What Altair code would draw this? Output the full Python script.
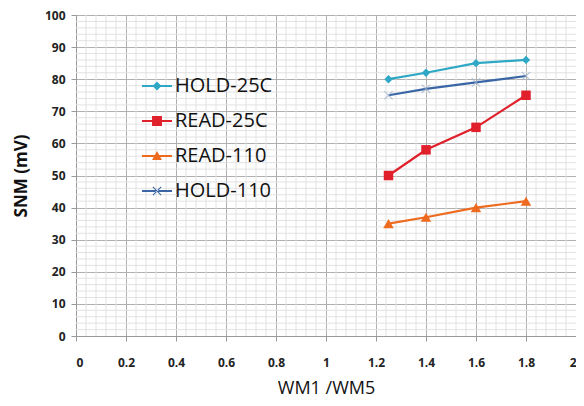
import altair as alt
import pandas as pd

x_vals = [1.25, 1.4, 1.6, 1.8]
series_names = ["HOLD-25C", "READ-25C", "READ-110", "HOLD-110"]
hold_25c = [80, 82, 85, 86]
read_25c = [50, 58, 65, 75]
read_110 = [35, 37, 40, 42]
hold_110 = [75, 77, 79, 81]
colors = ["#2EA8C5", "#E0202A", "#EE6A1E", "#3A66A6"]

x_major = [0, 0.2, 0.4, 0.6, 0.8, 1, 1.2, 1.4, 1.6, 1.8, 2]
y_major = [0, 10, 20, 30, 40, 50, 60, 70, 80, 90, 100]
x_minor = [round(i * 0.04, 2) for i in range(51) if i % 5 != 0]
y_minor = [i * 2 for i in range(51) if i % 5 != 0]

rows = []
for name, vals in zip(series_names, [hold_25c, read_25c, read_110, hold_110]):
    for xv, yv in zip(x_vals, vals):
        rows.append({"x": xv, "y": yv, "series": name})
df = pd.DataFrame(rows)

FONT = "Open Sans"
xscale = alt.Scale(domain=[0, 2], nice=False, zero=False)
yscale = alt.Scale(domain=[0, 100], nice=False)
cscale = alt.Scale(domain=series_names, range=colors)

xaxis = alt.Axis(
    values=x_major, title="WM1 /WM5", labelExpr="format(datum.value, '~g')",
    grid=True, gridColor="#b0b0b0", domainColor="#999", tickColor="#999", tickSize=5,
    labelFont=FONT, labelFontWeight="bold", labelFontSize=12, labelColor="#222",
    labelPadding=16, titleFont=FONT, titleFontSize=18, titleFontWeight="normal",
    titleColor="#111", titlePadding=11)
yaxis = alt.Axis(
    values=y_major, title="SNM (mV)", grid=True, gridColor="#b0b0b0",
    domainColor="#999", tickColor="#999", tickSize=5,
    labelFont=FONT, labelFontWeight="bold", labelFontSize=12, labelColor="#222",
    labelPadding=6, titleFont=FONT, titleFontSize=17, titleFontWeight="bold",
    titleColor="#111", titlePadding=14)

X = lambda f: alt.X(f, scale=xscale, axis=xaxis, title="WM1 /WM5")
Y = lambda f: alt.Y(f, scale=yscale, axis=yaxis, title="SNM (mV)")

minor_v = alt.Chart(pd.DataFrame({"x": x_minor})).mark_rule(color="#e2e2e2", strokeWidth=1).encode(
    x=X("x:Q"))
minor_h = alt.Chart(pd.DataFrame({"y": y_minor})).mark_rule(color="#e2e2e2", strokeWidth=1).encode(
    y=Y("y:Q"))

base = alt.Chart(df)

lines = base.mark_line(strokeWidth=2.2).encode(
    x=X("x:Q"), y=Y("y:Q"),
    color=alt.Color("series:N", scale=cscale, legend=None),
    detail="series:N",
)

pts = base.transform_filter(alt.datum.series != "HOLD-110").mark_point(filled=True, opacity=1).encode(
    x=X("x:Q"), y=Y("y:Q"),
    color=alt.Color("series:N", scale=cscale, legend=None),
    shape=alt.Shape("series:N", scale=alt.Scale(domain=["HOLD-25C", "READ-25C", "READ-110"],
                                                range=["diamond", "square", "triangle-up"]), legend=None),
    size=alt.Size("series:N", scale=alt.Scale(domain=["HOLD-25C", "READ-25C", "READ-110"],
                                              range=[70, 110, 90]), legend=None),
)

xpts = base.transform_filter(alt.datum.series == "HOLD-110").mark_point(
    shape="M-1,-1L1,1M1,-1L-1,1", filled=False, color="#9fb2cf", size=70, strokeWidth=1.2).encode(
    x=X("x:Q"), y=Y("y:Q"),
)

leg_paths = [
    "M-1,-0.07H1V0.07H-1Z M0,-0.3L0.3,0L0,0.3L-0.3,0Z",
    "M-1,-0.07H1V0.07H-1Z M-0.33,-0.33H0.33V0.33H-0.33Z",
    "M-1,-0.07H1V0.07H-1Z M0,-0.33L0.33,0.27H-0.33Z",
    "M-1,-0.07H1V0.07H-1Z M-0.3,-0.25L-0.25,-0.3L0.3,0.25L0.25,0.3Z M0.3,-0.25L0.25,-0.3L-0.3,0.25L-0.25,0.3Z",
]

leg = base.mark_point(filled=True, opacity=0).encode(
    x=X("x:Q"), y=Y("y:Q"),
    color=alt.Color("series:N", scale=cscale, legend=None),
    shape=alt.Shape("series:N", scale=alt.Scale(domain=series_names, range=leg_paths), legend=alt.Legend(
        title=None, orient="none", legendX=66, legendY=56, symbolSize=900,
        symbolOpacity=1, symbolStrokeWidth=0, labelFont=FONT, labelFontSize=20,
        labelColor="#111", rowPadding=10, labelOffset=3, labelLimit=300,
        symbolFillColor={"expr": "scale('color', datum.value)"})),
)

chart = alt.layer(minor_v, minor_h, lines, pts, xpts, leg).resolve_scale(
    shape="independent", size="independent"
).properties(
    width=500, height=321,
    autosize=alt.AutoSizeParams(type="none"),
    padding={"left": 68, "top": 7, "right": 0, "bottom": 62},
).configure_view(stroke="#bbb", strokeWidth=1).configure(background="white")

chart.save("out.html", embed_options={"renderer": "svg", "actions": False})
